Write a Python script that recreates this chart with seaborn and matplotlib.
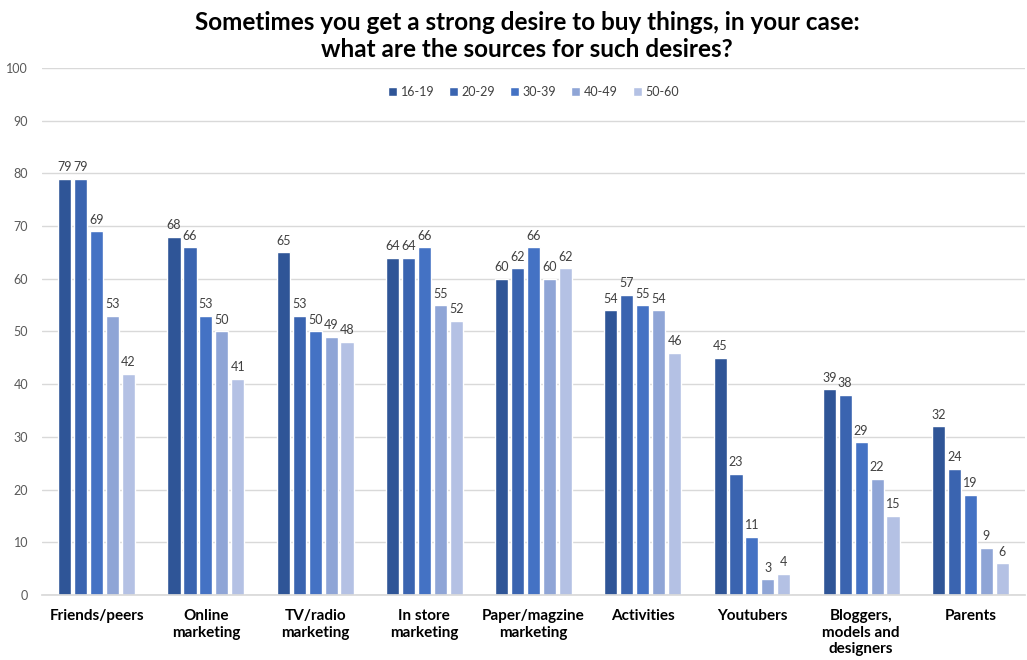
import matplotlib
matplotlib.use("Agg")
import matplotlib.pyplot as plt
from matplotlib.ticker import FixedLocator
import seaborn as sns
import pandas as pd

categories = ["Friends/peers", "Online\nmarketing", "TV/radio\nmarketing", "In store\nmarketing",
              "Paper/magzine\nmarketing", "Activities", "Youtubers",
              "Bloggers,\nmodels and\ndesigners", "Parents"]
groups = ["16-19", "20-29", "30-39", "40-49", "50-60"]
v_16_19 = [79, 68, 65, 64, 60, 54, 45, 39, 32]
v_20_29 = [79, 66, 53, 64, 62, 57, 23, 38, 24]
v_30_39 = [69, 53, 50, 66, 66, 55, 11, 29, 19]
v_40_49 = [53, 50, 49, 55, 60, 54, 3, 22, 9]
v_50_60 = [42, 41, 48, 52, 62, 46, 4, 15, 6]
colors = ["#2F5597", "#3A64B0", "#4472C4", "#8FA5D6", "#B4C1E4"]

rows = []
for g, vals in zip(groups, [v_16_19, v_20_29, v_30_39, v_40_49, v_50_60]):
    for c, v in zip(categories, vals):
        rows.append({"cat": c, "group": g, "val": v})
df = pd.DataFrame(rows)

sns.set_theme(style="white")
plt.rcParams['font.family'] = ['Lato', 'DejaVu Sans']

fig = plt.figure(figsize=(10.27, 6.6), dpi=100)
ax = fig.add_axes([0.041, 0.0985, 0.957, 0.7985])
sns.barplot(data=df, x="cat", y="val", hue="group", order=categories, hue_order=groups,
            palette=colors, width=0.73, gap=0.18, ax=ax, saturation=1)

for cont in ax.containers:
    ax.bar_label(cont, fmt="%d", padding=4, fontsize=9, color="#404040")

ax.set_ylim(0, 100)
ax.set_xlim(-0.5, len(categories) - 0.5)
ax.set_yticks(range(0, 101, 10))
ax.yaxis.grid(True, color="#D9D9D9", linewidth=1)
ax.set_axisbelow(True)
for s in ["top", "right", "left"]:
    ax.spines[s].set_visible(False)
ax.spines["bottom"].set_color("#D9D9D9")
ax.tick_params(axis="y", length=0, labelsize=9, labelcolor="#595959", pad=10)
ax.tick_params(axis="x", which="major", length=0, labelsize=11, pad=10)
ax.xaxis.set_minor_locator(FixedLocator([i - 0.5 for i in range(len(categories) + 1)]))
ax.tick_params(axis="x", which="minor", length=6, color="#D9D9D9", width=1)
for lbl in ax.get_xticklabels():
    lbl.set_fontweight("bold")
    lbl.set_color("#000000")
    lbl.set_verticalalignment("top")
    lbl.set_linespacing(1.25)
ax.set_xlabel("")
ax.set_ylabel("")

ax.legend(loc="upper center", bbox_to_anchor=(0.5, 0.987), ncol=5, frameon=False,
          fontsize=9, handlelength=0.7, handleheight=0.7, handletextpad=0.3,
          columnspacing=1.2, labelcolor="#404040")

fig.text(527 / 1027, 1 - 11 / 660, "Sometimes you get a strong desire to buy things, in your case:\nwhat are the sources for such desires?",
         ha="center", va="top", fontsize=17.5, fontweight="bold", linespacing=1.2, color="#000000")

fig.savefig("out.png", dpi=100)
